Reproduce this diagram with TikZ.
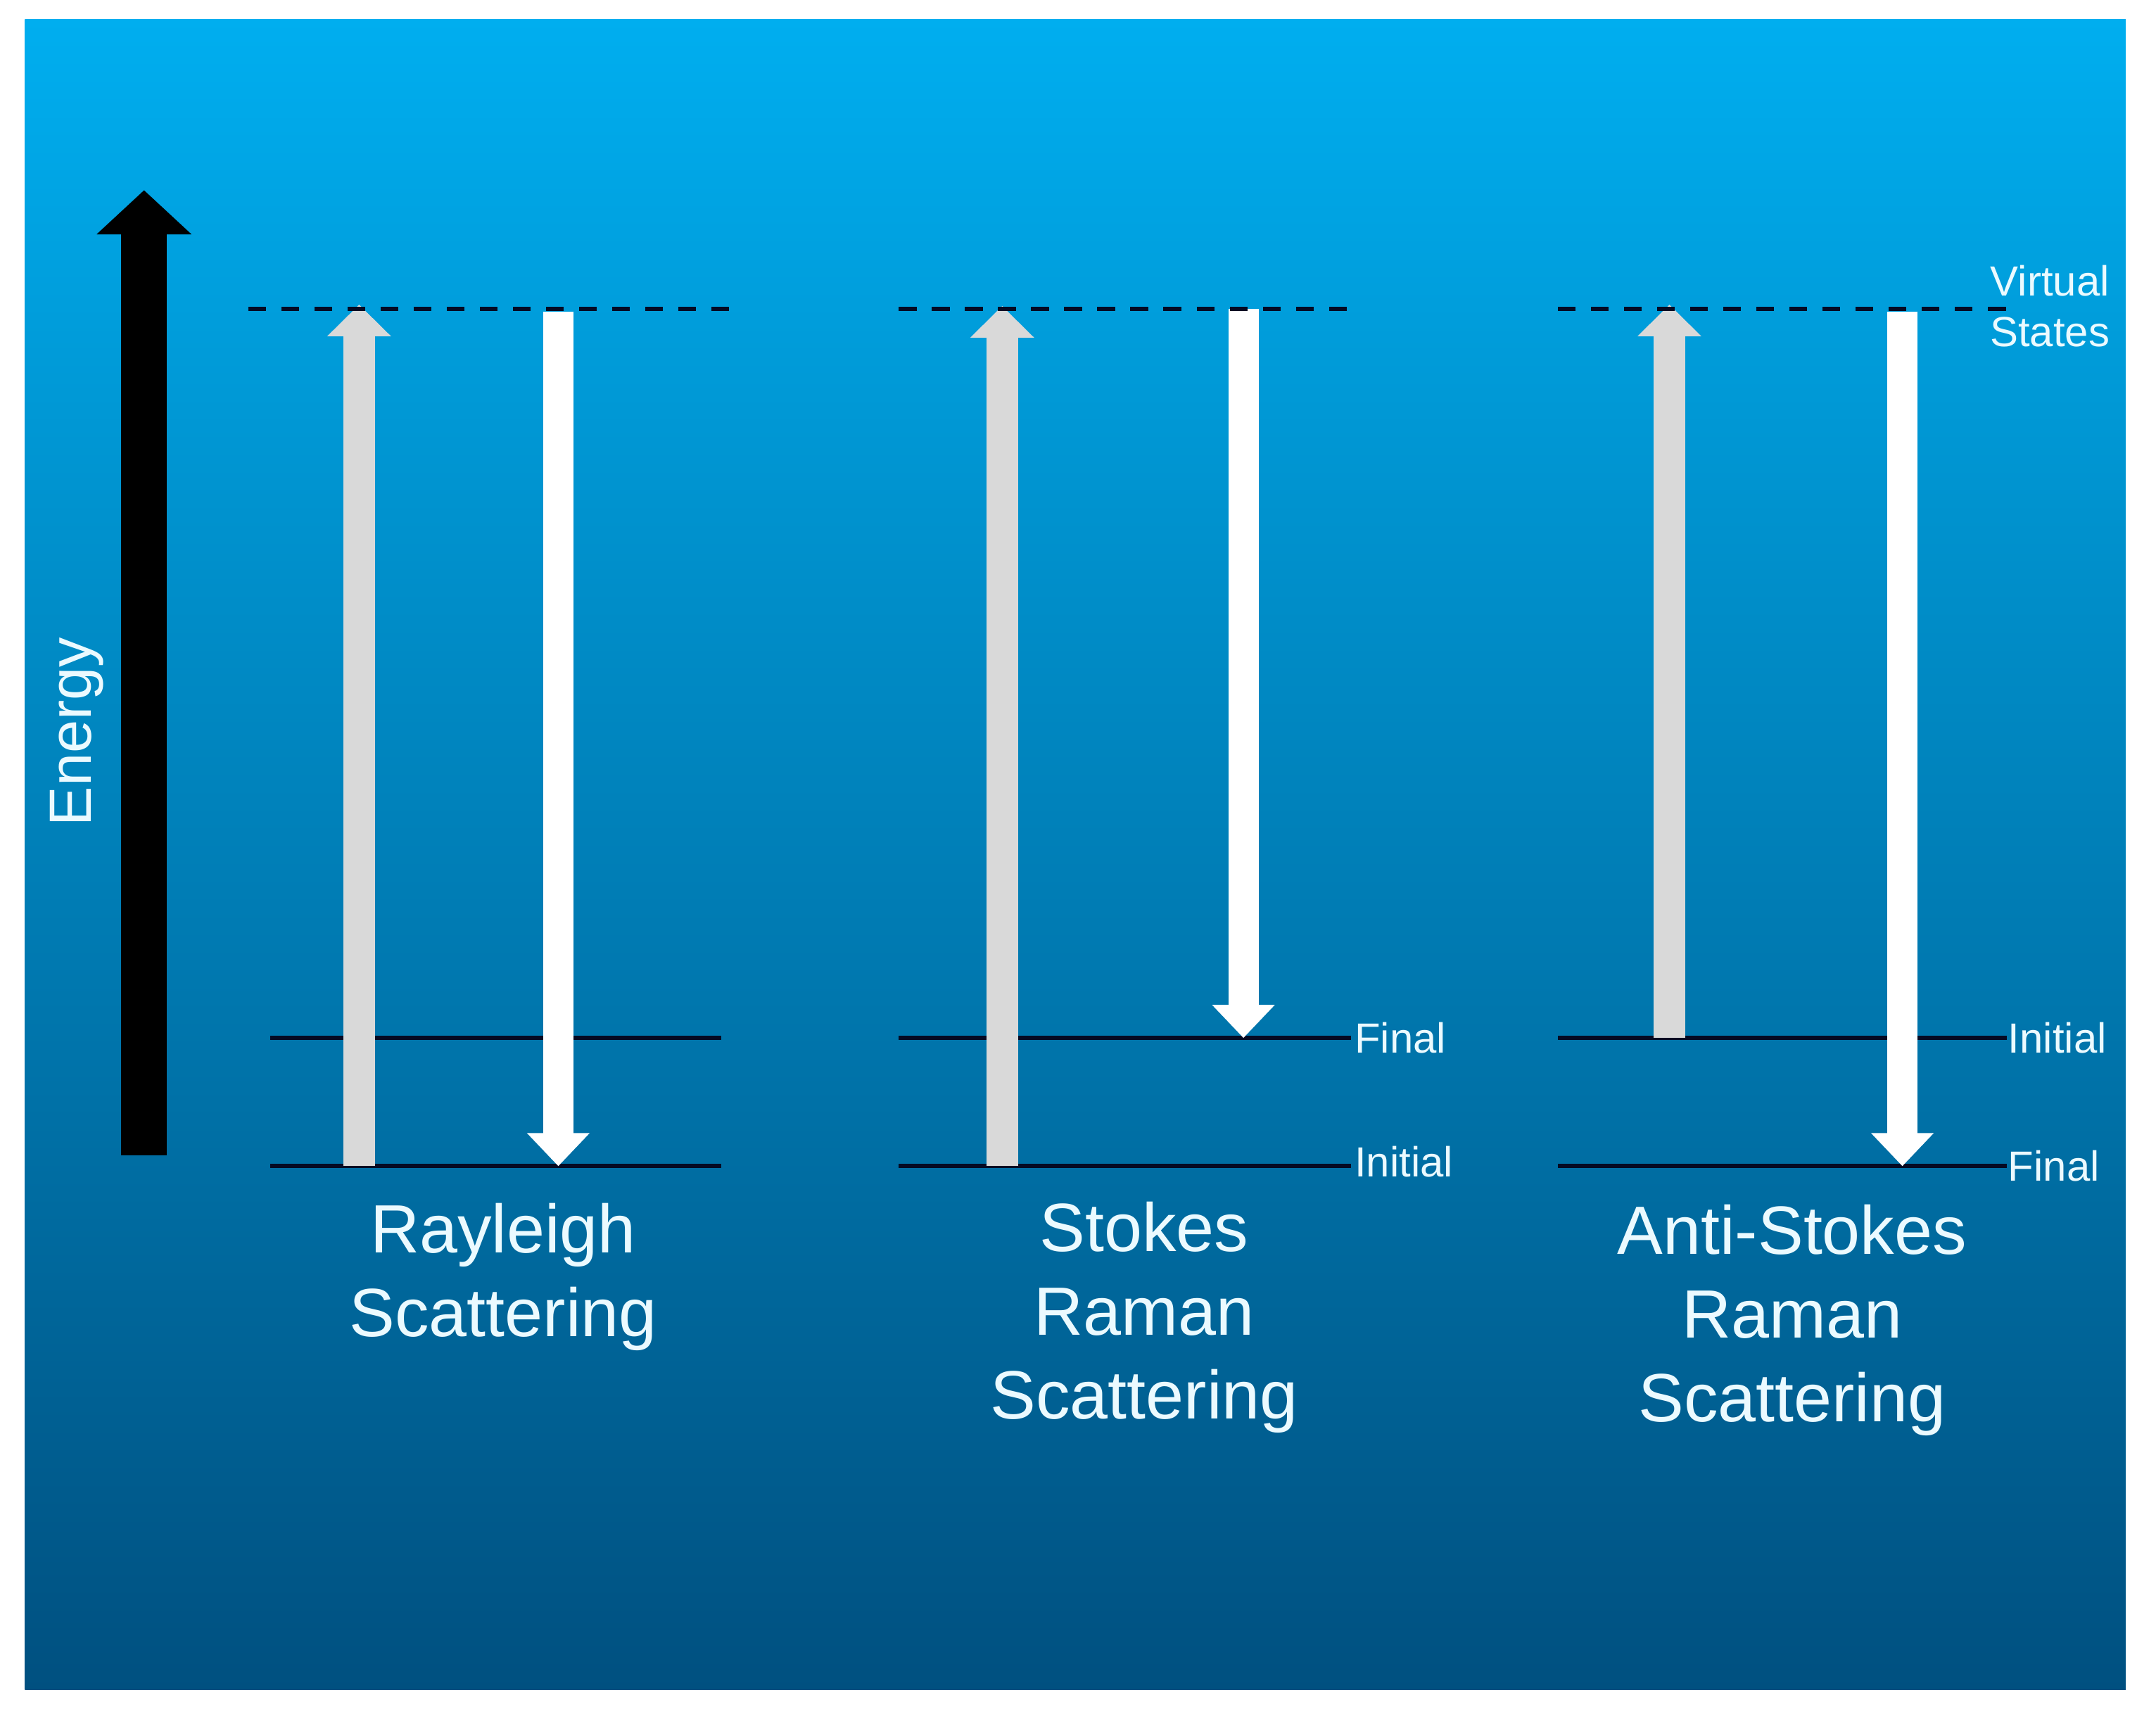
\documentclass[tikz,border=0pt]{standalone}
\usepackage{fontspec}
\setmainfont{Liberation Sans}
\usetikzlibrary{arrows.meta}

\definecolor{topblue}{RGB}{0,174,239}
\definecolor{midblue}{RGB}{0,117,194}
\definecolor{lowblue}{RGB}{0,80,128}
\definecolor{labeltext}{RGB}{235,250,255}
\definecolor{upgray}{RGB}{217,217,217}
\definecolor{levelline}{RGB}{5,10,35}

\begin{document}
\begin{tikzpicture}[x=0.1mm,y=-0.1mm,
  level/.style={line width=0.3mm,levelline},
  virtual/.style={line width=0.3mm,levelline,dash pattern=on 1.3mm off 1.1mm},
  uparrow/.style={line width=2.3mm,upgray,-{Triangle[width=4.5mm,length=2.3mm]}},
  downarrow/.style={line width=2.2mm,white,-{Triangle[width=4.4mm,length=2.4mm]}},
  small/.style={text=labeltext,font=\fontsize{8.7}{10.5}\selectfont,inner sep=0.2mm},
  title/.style={text=labeltext,font=\fontsize{14.1}{17.3}\selectfont,align=center,inner sep=0pt,anchor=north}]

% page and background
\fill[white] (0,0) rectangle (1564,1243.4);
\useasboundingbox (0,0) rectangle (1564,1243.4);
\shade[top color=topblue,middle color=midblue,bottom color=lowblue] (18,14) rectangle (1542,1226);

% energy axis
\coordinate (ebot) at (104.5,838);
\coordinate (etop) at (104.5,138);
\draw[line width=3.3mm,black,-{Triangle[width=6.7mm,length=3.2mm]}] (ebot) -- (etop);
\node[text=labeltext,font=\fontsize{12.3}{14}\selectfont,rotate=90,anchor=base,inner sep=0pt] (energy) at (66,531) {Energy};

% Rayleigh
\coordinate (rvL) at (180,224);  \coordinate (rvR) at (530,224);
\coordinate (rfL) at (196,753);  \coordinate (rfR) at (523,753);
\coordinate (riL) at (196,846);  \coordinate (riR) at (523,846);
\draw[level] (rfL) -- (rfR);
\draw[level] (riL) -- (riR);
\coordinate (rup1) at (260.5,846); \coordinate (rup2) at (260.5,221);
\coordinate (rdn1) at (405,226);   \coordinate (rdn2) at (405,846);
\draw[uparrow] (rup1) -- (rup2);
\draw[downarrow] (rdn1) -- (rdn2);
\draw[virtual] (rvL) -- (rvR);
\node[title] (rtitle) at (365,872) {Rayleigh\\Scattering};

% Stokes Raman
\coordinate (svL) at (652,224);  \coordinate (svR) at (980,224);
\coordinate (sfL) at (652,753);  \coordinate (sfR) at (980,753);
\coordinate (siL) at (652,846);  \coordinate (siR) at (980,846);
\draw[level] (sfL) -- (sfR);
\draw[level] (siL) -- (siR);
\coordinate (sup1) at (727,846); \coordinate (sup2) at (727,222);
\coordinate (sdn1) at (902,224); \coordinate (sdn2) at (902,753);
\draw[uparrow] (sup1) -- (sup2);
\draw[downarrow] (sdn1) -- (sdn2);
\draw[virtual] (svL) -- (svR);
\node[small,anchor=west] (sfinal) at (sfR) {Final};
\node[small,anchor=west] (sinit) at ([yshift=0.3mm]siR) {Initial};
\node[title] (stitle) at (830,871) {Stokes\\Raman\\Scattering};

% Anti-Stokes Raman
\coordinate (avL) at (1130,224); \coordinate (avR) at (1455,224);
\coordinate (aiL) at (1130,753); \coordinate (aiR) at (1456,753);
\coordinate (afL) at (1130,846); \coordinate (afR) at (1456,846);
\draw[level] (aiL) -- (aiR);
\draw[level] (afL) -- (afR);
\coordinate (aup1) at (1211,753); \coordinate (aup2) at (1211,221);
\coordinate (adn1) at (1380,226); \coordinate (adn2) at (1380,846);
\draw[uparrow] (aup1) -- (aup2);
\draw[downarrow] (adn1) -- (adn2);
\draw[virtual] (avL) -- (avR);
\node[small,anchor=west,inner sep=0pt] (ainit) at (aiR) {Initial};
\node[small,anchor=west,inner sep=0pt] (afinal) at (afR) {Final};
\node[small,align=center,anchor=west,inner sep=0pt] (vstates) at (1443,222) {Virtual\\States};
\node[title] (atitle) at (1300,873) {Anti-Stokes\\Raman\\Scattering};

\end{tikzpicture}
\end{document}
